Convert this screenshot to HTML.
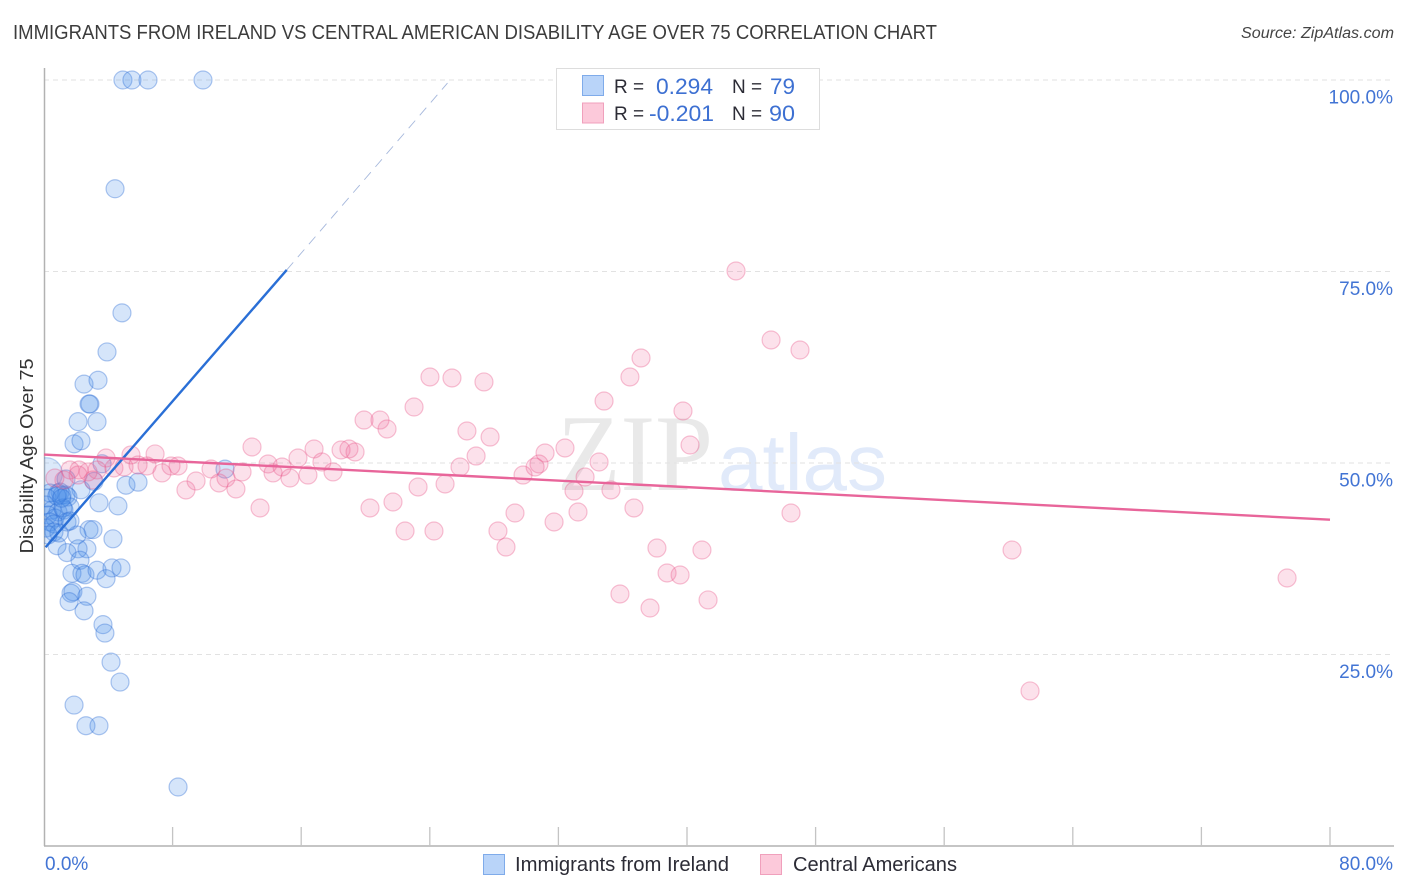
<!DOCTYPE html>
<html lang="en">
<head>
<meta charset="utf-8">
<title>Immigrants from Ireland vs Central American Disability Age Over 75 Correlation Chart</title>
<style>
html,body{margin:0;padding:0;background:#fff;}
body{width:1406px;height:892px;overflow:hidden;}
svg{display:block;font-family:"Liberation Sans",sans-serif;}
.tick-label{font-size:19px;fill:#4274d4;}
.legend-label{font-size:19px;fill:#2c2c36;}
.legend-value{font-size:22px;fill:#3d70d2;}
</style>
</head>
<body>
<svg id="chart" width="1406" height="892" viewBox="0 0 1406 892" xmlns="http://www.w3.org/2000/svg">
  <defs>
    <clipPath id="plot-clip"><rect x="44" y="60" width="1350" height="786"></rect></clipPath>
  </defs>
  <text x="13" y="39" font-size="20" fill="#3c3c3c" textLength="924" lengthAdjust="spacingAndGlyphs">IMMIGRANTS FROM IRELAND VS CENTRAL AMERICAN DISABILITY AGE OVER 75 CORRELATION CHART</text>
  <text x="1241" y="38" font-size="15.5" font-style="italic" fill="#444" textLength="153" lengthAdjust="spacingAndGlyphs">Source: ZipAtlas.com</text>

  <g>
    <text x="557" y="490" font-family="'Liberation Serif',serif" font-size="109" fill="#e9e9e9" textLength="156" lengthAdjust="spacingAndGlyphs">ZIP</text>
    <text x="718" y="490" font-size="80" fill="#e1eafa">atlas</text>
  </g>

  <g id="grid"></g>
  <g id="axes"></g>
  <g id="blue-points" clip-path="url(#plot-clip)"></g>
  <g id="pink-points" clip-path="url(#plot-clip)"></g>
  <g id="trends"></g>
  <g id="tick-labels"></g>

  <g>
    <rect x="556.5" y="68.5" width="263" height="61" fill="#fff" stroke="#ddd"></rect>
    <rect x="582.5" y="75.5" width="21" height="20" fill="#b9d4f9" stroke="#7fabea"></rect>
    <rect x="582.5" y="103" width="21" height="20" fill="#fcc9da" stroke="#f0a0bc"></rect>
    <text class="legend-label" x="614" y="93">R =</text>
    <text class="legend-value" x="656" y="94" textLength="57" lengthAdjust="spacingAndGlyphs">0.294</text>
    <text class="legend-label" x="732" y="93">N =</text>
    <text class="legend-value" x="770" y="94" textLength="25" lengthAdjust="spacingAndGlyphs">79</text>
    <text class="legend-label" x="614" y="120">R =</text>
    <text class="legend-value" x="649" y="121" textLength="65" lengthAdjust="spacingAndGlyphs">-0.201</text>
    <text class="legend-label" x="732" y="120">N =</text>
    <text class="legend-value" x="769" y="121" textLength="26" lengthAdjust="spacingAndGlyphs">90</text>
  </g>

  <g>
    <rect x="483.5" y="854.5" width="21" height="20" fill="#b9d4f9" stroke="#7fabea"></rect>
    <text x="515" y="871" font-size="20" fill="#2c2c36" textLength="214" lengthAdjust="spacingAndGlyphs">Immigrants from Ireland</text>
    <rect x="760.5" y="854.5" width="21" height="20" fill="#fcc9da" stroke="#f0a0bc"></rect>
    <text x="793" y="871" font-size="20" fill="#2c2c36" textLength="164" lengthAdjust="spacingAndGlyphs">Central Americans</text>
  </g>

  <text transform="translate(33,456) rotate(-90)" font-size="18" fill="#333" text-anchor="middle" textLength="195" lengthAdjust="spacingAndGlyphs">Disability Age Over 75</text>
</svg>
<script>
const yTicks = [25, 50, 75, 100];
const yTickLabels = ["25.0%", "50.0%", "75.0%", "100.0%"];
const xTicks = [0, 8, 16, 24, 32, 40, 48, 56, 64, 72, 80];
const xEdgeValues = [0, 80];
const xEdgeLabels = ["0.0%", "80.0%"];

const blueX = [4.91,5.47,6.47,9.89,4.42,4.85,3.92,2.49,3.36,2.86,2.80,2.12,3.30,1.87,2.30,3.61,11.26,5.10,5.85,4.60,3.42,2.30,3.11,4.29,2.80,3.05,2.05,2.67,2.12,1.43,0.81,2.24,1.74,2.36,2.55,3.30,4.23,4.79,3.86,1.68,1.80,2.67,1.56,2.49,3.67,3.79,4.17,4.73,1.87,2.61,3.42,8.34,1.37,0.87,1.12,1.37,1.00,0.37,0.19,1.49,0.50,0.12,0.87,1.24,1.62,0.25,0.68,1.18,0.37,0.62,0.12,1.43,1.62,0.62,0.93,0.25,0.80,1.10];
const blueY = [100,100,100,100,85.8,69.6,64.5,60.3,60.8,57.7,57.7,55.4,55.4,52.5,52.9,49.9,49.2,47.1,47.5,44.4,44.8,46.5,47.6,40.1,41.3,41.3,40.6,38.8,38.8,38.3,39.2,37.3,35.6,35.6,35.4,36.0,36.3,36.3,34.9,33.0,33.2,32.6,31.9,30.7,28.9,27.8,24.0,21.4,18.4,15.7,15.7,7.7,47.91,46.08,45.82,45.82,46.21,46.08,45.43,45.56,43.86,44.52,43.60,43.86,44.26,43.21,42.82,44.13,42.30,42.04,41.51,42.30,42.43,40.99,40.86,40.60,45.70,45.40];
const blueClusterX = [0.15];
const blueClusterY = [48.6];

const pinkX = [43.05,45.23,47.03,37.14,36.45,24.01,25.38,27.37,23.02,34.84,39.75,19.91,20.90,21.34,26.31,27.75,40.19,12.94,16.80,18.48,18.97,19.35,15.80,17.29,32.41,31.17,26.88,30.79,34.53,25.88,30.55,29.80,17.98,13.94,14.81,14.25,15.30,16.42,12.32,10.39,8.34,7.90,6.91,5.41,6.41,7.34,8.83,9.46,10.89,11.32,11.94,3.86,4.35,4.98,5.85,3.30,2.74,2.18,1.62,1.24,2.12,3.05,0.68,13.44,20.28,21.71,23.27,24.95,32.97,33.66,35.27,36.70,46.47,33.22,29.30,31.73,22.46,24.26,28.24,28.74,38.13,40.93,38.76,39.57,35.83,37.70,41.31,60.22,77.33,61.34];
const pinkY = [75.07,66.06,64.75,63.71,61.23,61.23,61.10,60.58,57.31,58.09,56.79,55.61,55.61,54.44,54.18,53.39,52.35,52.09,51.83,51.70,51.83,51.44,50.65,50.13,51.96,51.31,50.91,49.87,50.13,49.48,49.48,48.43,48.83,49.87,49.48,48.70,48.04,48.43,48.83,49.22,49.61,49.61,51.18,51.05,49.61,48.70,46.48,47.65,47.39,48.04,46.61,50.65,49.35,49.48,49.74,49.09,48.83,49.09,49.09,47.78,48.43,47.78,48.04,44.13,44.13,44.91,46.87,47.26,46.34,48.17,46.48,44.13,43.47,43.60,43.47,42.30,41.12,41.12,41.12,39.03,38.90,38.64,35.64,35.38,32.90,31.07,32.12,38.64,34.99,20.24];

const blueTrendX = [0.1, 15.1];
const blueTrendY = [39.0, 75.2];
const blueDashX = [15.1, 25.1];
const blueDashY = [75.2, 99.6];
const pinkTrendX = [0, 80];
const pinkTrendY = [51.1, 42.6];

const NS = 'http://www.w3.org/2000/svg';
function sx(v) { return 44 + v * (1286 / 80); }
function sy(v) { return 846 - v * 7.66; }
function make(tag, parentId, props, text) {
  const el = document.createElementNS(NS, tag);
  for (const k in props) el.setAttribute(k, props[k]);
  if (text !== undefined) el.textContent = text;
  document.getElementById(parentId).appendChild(el);
  return el;
}

yTicks.forEach(function (t) {
  const el = make('line', 'grid', { x1: 44, x2: 1394, y1: sy(t), y2: sy(t), stroke: '#e2e2e2', 'stroke-width': 1, 'stroke-dasharray': '5 4' });
  
  
});

const yAxis = make('line', 'axes', { x1: 44.5, x2: 44.5, y1: 68, y2: 846, stroke: '#b2b2b2', 'stroke-width': 1.5 });


const xAxis = make('line', 'axes', { x1: 44, x2: 1394, y1: 846, y2: 846, stroke: '#b2b2b2', 'stroke-width': 1.5 });


xTicks.slice(1).forEach(function (t) {
  const el = make('line', 'axes', { x1: sx(t), x2: sx(t), y1: 827, y2: 846, stroke: '#c4c4c4', 'stroke-width': 1.3 });
  
  
});

blueClusterX.forEach(function (v, i) {
  const el = make('circle', 'blue-points', { cx: sx(v), cy: sy(blueClusterY[i]), r: 16, fill: 'rgba(74,144,232,0.2)', stroke: 'rgba(47,111,214,0.3)', 'stroke-width': 1.2 });
  
  
});
blueX.forEach(function (v, i) {
  const el = make('circle', 'blue-points', { cx: sx(v), cy: sy(blueY[i]), r: 9, fill: 'rgba(74,144,232,0.23)', stroke: 'rgba(47,111,214,0.38)', 'stroke-width': 1.2 });
  
  
});
pinkX.forEach(function (v, i) {
  const el = make('circle', 'pink-points', { cx: sx(v), cy: sy(pinkY[i]), r: 9, fill: 'rgba(240,106,153,0.2)', stroke: 'rgba(232,90,138,0.36)', 'stroke-width': 1.2 });
  
  
});

const blueDash = make('line', 'trends', { x1: sx(blueDashX[0]), y1: sy(blueDashY[0]), x2: sx(blueDashX[1]), y2: sy(blueDashY[1]), stroke: '#a6b8dc', 'stroke-width': 0.9, 'stroke-dasharray': '10 7' });


const blueLine = make('line', 'trends', { x1: sx(blueTrendX[0]), y1: sy(blueTrendY[0]), x2: sx(blueTrendX[1]), y2: sy(blueTrendY[1]), stroke: '#2a6fd6', 'stroke-width': 2.4 });


const pinkLine = make('line', 'trends', { x1: sx(pinkTrendX[0]), y1: sy(pinkTrendY[0]), x2: sx(pinkTrendX[1]), y2: sy(pinkTrendY[1]), stroke: '#e8659a', 'stroke-width': 2.4 });



yTicks.forEach(function (t, i) {
  const el = make('text', 'tick-labels', { x: 1393, y: sy(t) + 23.5, 'text-anchor': 'end', class: 'tick-label' }, yTickLabels[i]);
  
  
});
xEdgeValues.forEach(function (t, i) {
  const el = make('text', 'tick-labels', { x: i === 0 ? sx(t) + 1 : sx(t) + 63, y: 870, 'text-anchor': i === 0 ? 'start' : 'end', class: 'tick-label' }, xEdgeLabels[i]);
  
  
});
</script>
</body>
</html>
